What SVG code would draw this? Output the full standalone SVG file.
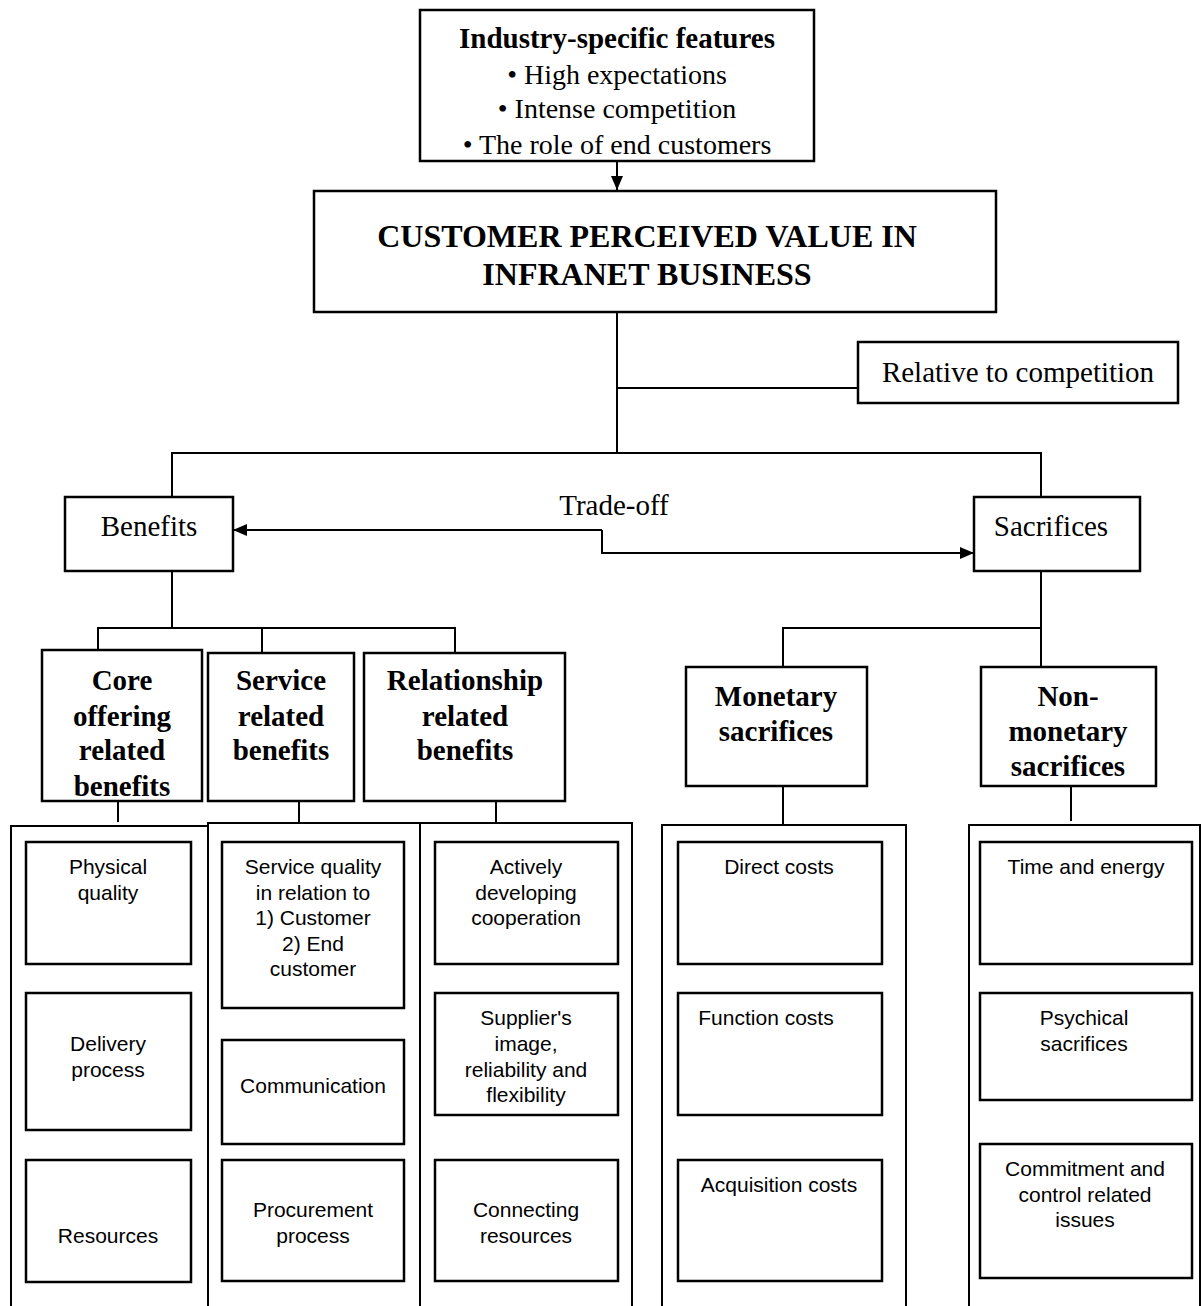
<svg xmlns="http://www.w3.org/2000/svg" width="1202" height="1306" viewBox="0 0 1202 1306">
<style>
.box{fill:#fff;stroke:#000;stroke-width:2.5}
.cont{fill:none;stroke:#000;stroke-width:2}
.ln{fill:none;stroke:#000;stroke-width:2}
.s{font-family:"Liberation Serif","Times New Roman",serif;font-size:29px;fill:#000;text-anchor:middle}
.sb{font-family:"Liberation Serif","Times New Roman",serif;font-size:29px;font-weight:bold;fill:#000;text-anchor:middle}
.t{font-family:"Liberation Serif","Times New Roman",serif;font-size:28px;fill:#000;text-anchor:middle}
.tb{font-family:"Liberation Serif","Times New Roman",serif;font-size:29px;font-weight:bold;fill:#000;text-anchor:middle}
.h{font-family:"Liberation Serif","Times New Roman",serif;font-size:32px;font-weight:bold;fill:#000;text-anchor:middle}
.a{font-family:"Liberation Sans",Arial,sans-serif;font-size:21px;fill:#000;text-anchor:middle}
</style>
<defs>
<marker id="arr" viewBox="0 0 14 12" refX="14" refY="6" markerWidth="14" markerHeight="12" markerUnits="userSpaceOnUse" orient="auto">
<path d="M0,0 L14,6 L0,12 Z" fill="#000"/>
</marker>
</defs>

<g id="connectors">
<line class="ln" x1="617" y1="161" x2="617" y2="190" marker-end="url(#arr)"/>
<line class="ln" x1="617" y1="312" x2="617" y2="453"/>
<line class="ln" x1="617" y1="388" x2="858" y2="388"/>
<polyline class="ln" points="172,497 172,453 1041,453 1041,497"/>
<polyline class="ln" points="602,530 602,553 974,553" marker-end="url(#arr)"/>
<line class="ln" x1="602" y1="530" x2="233" y2="530" marker-end="url(#arr)"/>
<line class="ln" x1="172" y1="571" x2="172" y2="628"/>
<polyline class="ln" points="98,650 98,628 455,628 455,653"/>
<line class="ln" x1="262" y1="628" x2="262" y2="653"/>
<line class="ln" x1="1041" y1="571" x2="1041" y2="628"/>
<polyline class="ln" points="783,667 783,628 1041,628 1041,667"/>
<line class="ln" x1="118" y1="801" x2="118" y2="822"/>
<line class="ln" x1="299" y1="801" x2="299" y2="823"/>
<line class="ln" x1="496" y1="801" x2="496" y2="823"/>
<line class="ln" x1="783" y1="786" x2="783" y2="825"/>
<line class="ln" x1="1071" y1="786" x2="1071" y2="821"/>
</g>

<g id="industry">
<rect class="box" x="420" y="10" width="394" height="151"/>
<text class="tb" x="617" y="48">Industry-specific features</text>
<text class="t" x="617" y="84">• High expectations</text>
<text class="t" x="617" y="118">• Intense competition</text>
<text class="t" x="617" y="154">• The role of end customers</text>
</g>

<g id="cpv">
<rect class="box" x="314" y="191" width="682" height="121"/>
<text class="h" x="647" y="247">CUSTOMER PERCEIVED VALUE IN</text>
<text class="h" x="647" y="285">INFRANET BUSINESS</text>
</g>

<g id="relative">
<rect class="box" x="858" y="342" width="320" height="61"/>
<text class="s" x="1018" y="382">Relative to competition</text>
</g>

<g id="tradeoff-label">
<text class="s" x="614" y="515">Trade-off</text>
</g>

<g id="benefits">
<rect class="box" x="65" y="497" width="168" height="74"/>
<text class="s" x="149" y="536">Benefits</text>
</g>

<g id="sacrifices">
<rect class="box" x="974" y="497" width="166" height="74"/>
<text class="s" x="1051" y="536">Sacrifices</text>
</g>

<g id="core">
<rect class="box" x="42" y="650" width="160" height="151"/>
<text class="sb" x="122" y="690">Core</text>
<text class="sb" x="122" y="726">offering</text>
<text class="sb" x="122" y="760">related</text>
<text class="sb" x="122" y="796">benefits</text>
</g>

<g id="service">
<rect class="box" x="208" y="653" width="146" height="148"/>
<text class="sb" x="281" y="690">Service</text>
<text class="sb" x="281" y="726">related</text>
<text class="sb" x="281" y="760">benefits</text>
</g>

<g id="relationship">
<rect class="box" x="364" y="653" width="201" height="148"/>
<text class="sb" x="465" y="690">Relationship</text>
<text class="sb" x="465" y="726">related</text>
<text class="sb" x="465" y="760">benefits</text>
</g>

<g id="monetary">
<rect class="box" x="686" y="667" width="181" height="119"/>
<text class="sb" x="776" y="706">Monetary</text>
<text class="sb" x="776" y="741">sacrifices</text>
</g>

<g id="nonmonetary">
<rect class="box" x="981" y="667" width="175" height="119"/>
<text class="sb" x="1068" y="706">Non-</text>
<text class="sb" x="1068" y="741">monetary</text>
<text class="sb" x="1068" y="776">sacrifices</text>
</g>

<g id="core-container">
<polyline class="cont" points="11,1310 11,826 208,826"/>
</g>
<g id="service-container">
<polyline class="cont" points="208,1310 208,823 632,823 632,1310"/>
<line class="cont" x1="420" y1="823" x2="420" y2="1310"/>
</g>
<g id="monetary-container">
<polyline class="cont" points="662,1310 662,825 906,825 906,1310"/>
</g>
<g id="nonmonetary-container">
<polyline class="cont" points="969,1310 969,825 1200,825 1200,1310"/>
</g>

<g id="physical-quality">
<rect class="box" x="26" y="842" width="165" height="122"/>
<text class="a" x="108" y="874">Physical</text>
<text class="a" x="108" y="900">quality</text>
</g>
<g id="delivery-process">
<rect class="box" x="26" y="993" width="165" height="137"/>
<text class="a" x="108" y="1051">Delivery</text>
<text class="a" x="108" y="1077">process</text>
</g>
<g id="resources">
<rect class="box" x="26" y="1160" width="165" height="122"/>
<text class="a" x="108" y="1243">Resources</text>
</g>

<g id="service-quality">
<rect class="box" x="222" y="842" width="182" height="166"/>
<text class="a" x="313" y="874">Service quality</text>
<text class="a" x="313" y="900">in relation to</text>
<text class="a" x="313" y="925">1) Customer</text>
<text class="a" x="313" y="951">2) End</text>
<text class="a" x="313" y="976">customer</text>
</g>
<g id="communication">
<rect class="box" x="222" y="1040" width="182" height="104"/>
<text class="a" x="313" y="1093">Communication</text>
</g>
<g id="procurement">
<rect class="box" x="222" y="1160" width="182" height="121"/>
<text class="a" x="313" y="1217">Procurement</text>
<text class="a" x="313" y="1243">process</text>
</g>

<g id="actively">
<rect class="box" x="435" y="842" width="183" height="122"/>
<text class="a" x="526" y="874">Actively</text>
<text class="a" x="526" y="900">developing</text>
<text class="a" x="526" y="925">cooperation</text>
</g>
<g id="supplier">
<rect class="box" x="435" y="993" width="183" height="122"/>
<text class="a" x="526" y="1025">Supplier's</text>
<text class="a" x="526" y="1051">image,</text>
<text class="a" x="526" y="1077">reliability and</text>
<text class="a" x="526" y="1102">flexibility</text>
</g>
<g id="connecting">
<rect class="box" x="435" y="1160" width="183" height="121"/>
<text class="a" x="526" y="1217">Connecting</text>
<text class="a" x="526" y="1243">resources</text>
</g>

<g id="direct-costs">
<rect class="box" x="678" y="842" width="204" height="122"/>
<text class="a" x="779" y="874">Direct costs</text>
</g>
<g id="function-costs">
<rect class="box" x="678" y="993" width="204" height="122"/>
<text class="a" x="766" y="1025">Function costs</text>
</g>
<g id="acquisition-costs">
<rect class="box" x="678" y="1160" width="204" height="121"/>
<text class="a" x="779" y="1192">Acquisition costs</text>
</g>

<g id="time-energy">
<rect class="box" x="980" y="842" width="212" height="122"/>
<text class="a" x="1086" y="874">Time and energy</text>
</g>
<g id="psychical">
<rect class="box" x="980" y="993" width="212" height="107"/>
<text class="a" x="1084" y="1025">Psychical</text>
<text class="a" x="1084" y="1051">sacrifices</text>
</g>
<g id="commitment">
<rect class="box" x="980" y="1144" width="212" height="134"/>
<text class="a" x="1085" y="1176">Commitment and</text>
<text class="a" x="1085" y="1202">control related</text>
<text class="a" x="1085" y="1227">issues</text>
</g>
</svg>
